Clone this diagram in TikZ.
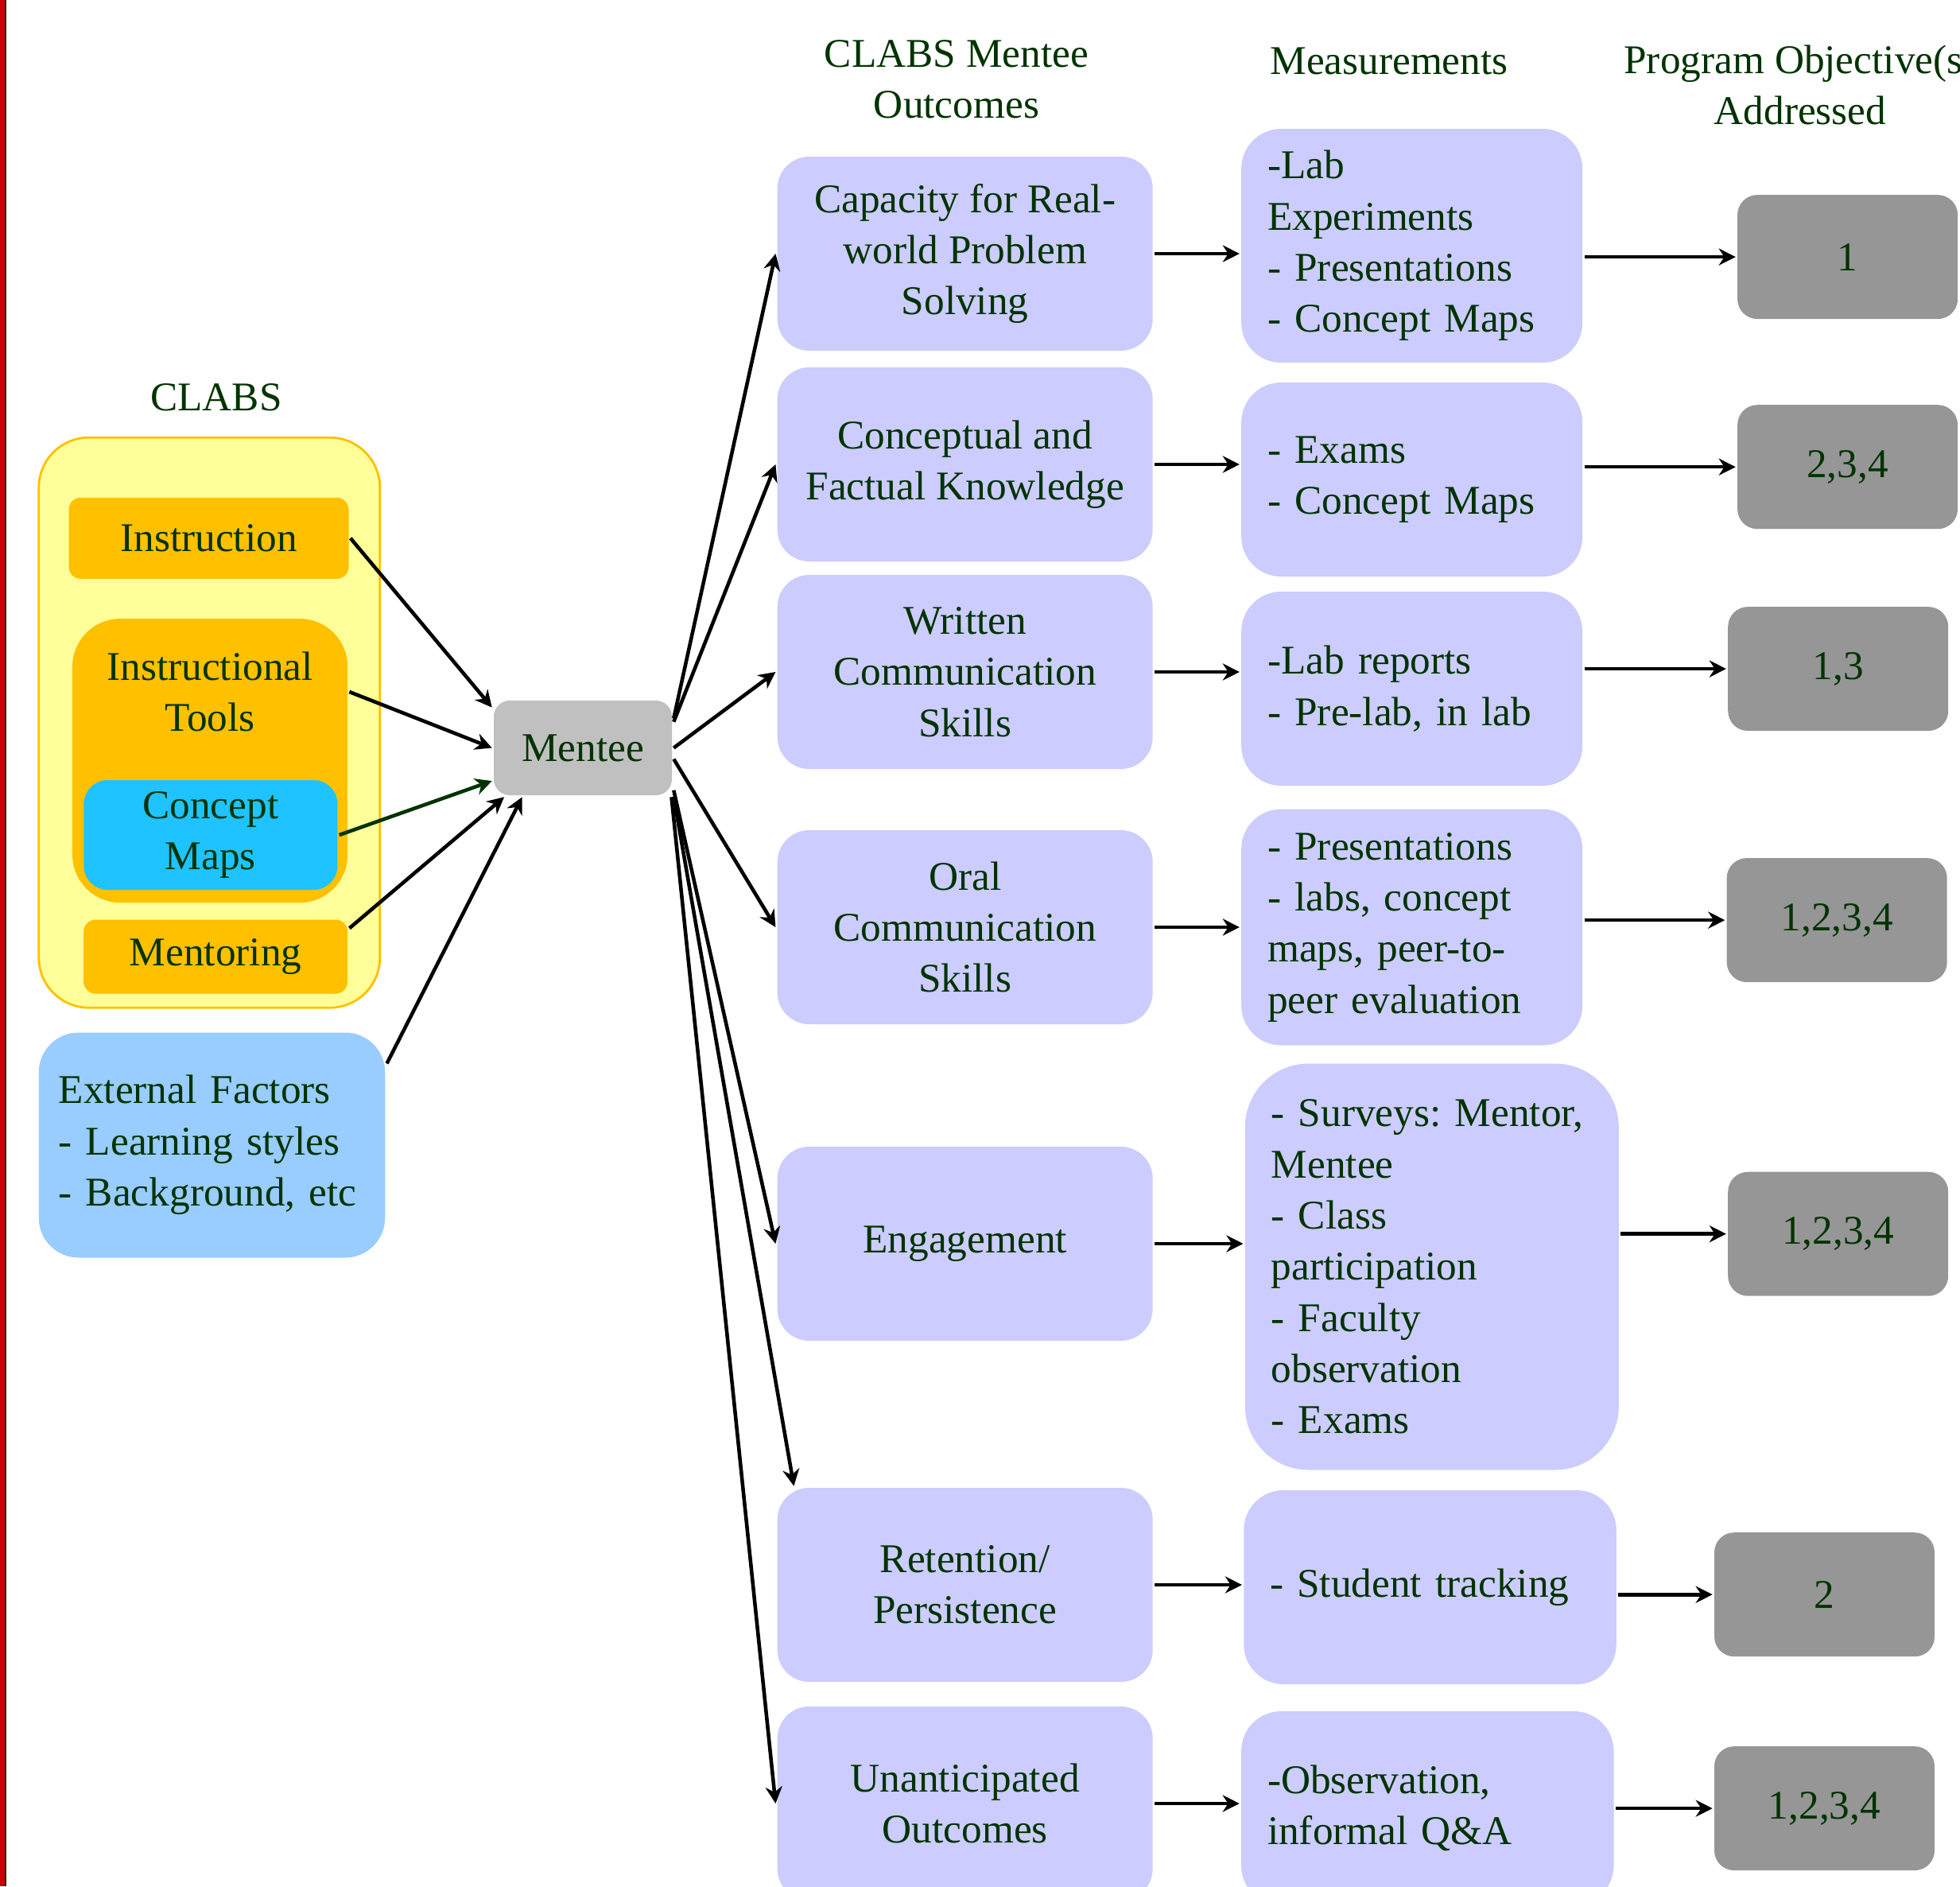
\documentclass[tikz,border=0pt]{standalone}
\usepackage{fontspec}
\setmainfont{Liberation Serif}
\usetikzlibrary{arrows.meta, positioning, calc}

\definecolor{txtgreen}{HTML}{003300}
\definecolor{clabsyellow}{HTML}{FFFF99}
\definecolor{clabsorange}{HTML}{FFC000}
\definecolor{mapblue}{HTML}{1EC3FF}
\definecolor{extblue}{HTML}{99CCFF}
\definecolor{lavender}{HTML}{CCCCFF}
\definecolor{menteegray}{HTML}{C0C0C0}
\definecolor{objgray}{HTML}{969696}
\definecolor{barred}{HTML}{CC0000}

\frenchspacing

\begin{document}
\begin{tikzpicture}[
    -{Stealth[length=6pt,width=6pt]}, line width=1.3pt,
    every node/.style={text=txtgreen, font=\fontsize{14.6pt}{18.3pt}\selectfont},
    heading/.style={align=center},
    item/.style={rectangle, fill=clabsorange, rounded corners=0.15cm},
    outcome/.style={rectangle, fill=lavender, rounded corners=0.4cm,
                    minimum width=4.72cm, minimum height=2.44cm, align=center},
    measure/.style={rectangle, fill=lavender, rounded corners=0.5cm,
                    inner xsep=0.33cm, align=left},
    objective/.style={rectangle, fill=objgray, rounded corners=0.25cm,
                      minimum width=2.77cm, minimum height=1.56cm}
]
    \useasboundingbox (0,0) rectangle (24.65,-23.72);

    % page edge
    \fill[barred] (0,0) rectangle (0.06,-23.72);
    \draw[-, txtgreen, line width=0.6pt] (0.07,0) -- (0.07,-23.72);

    % column headings
    \node[heading] (hclabs) at (2.72,-5.0)   {CLABS};
    \node[heading] (hout)   at (12.03,-1.0)  {CLABS Mentee\\Outcomes};
    \node[heading] (hmeas)  at (17.47,-0.77) {Measurements};
    \node[heading] (hobj)   at (22.64,-1.07) {Program Objective(s)\\Addressed};

    % CLABS group
    \node[draw=clabsorange, fill=clabsyellow, line width=0.8pt, rounded corners=0.63cm,
          minimum width=4.29cm, minimum height=7.17cm] (clabs) at (2.633,-9.087) {};
    \node[item, minimum width=3.52cm, minimum height=1.02cm] (instr) at (2.625,-6.768) {Instruction};
    \node[item, rounded corners=0.6cm, minimum width=3.46cm, minimum height=3.57cm] (tools) at (2.641,-9.566) {};
    \node[heading] (toolslbl) at (2.641,-8.70) {Instructional\\Tools};
    \node[fill=mapblue, rounded corners=0.3cm, minimum width=3.19cm, minimum height=1.38cm,
          align=center] (cmaps) at (2.649,-10.50) {Concept\\Maps};
    \node[item, minimum width=3.32cm, minimum height=0.93cm] (mentor) at (2.712,-12.03) {Mentoring};
    \node[fill=extblue, rounded corners=0.5cm, minimum height=2.83cm, text width=3.855cm,
          inner xsep=0.25cm, align=left] (extf) at (2.665,-14.40)
          {External Factors\\- Learning styles\\- Background, etc};

    \node[fill=menteegray, rounded corners=0.2cm, minimum width=2.24cm,
          minimum height=1.19cm] (mentee) at (7.33,-9.405) {Mentee};

    % outcomes
    \node[outcome] (real)   at (12.137,-3.19)  {Capacity for Real-\\world Problem\\Solving};
    \node[outcome] (know)   at (12.137,-5.84)  {Conceptual and\\Factual Knowledge};
    \node[outcome] (write)  at (12.137,-8.45)  {Written\\Communication\\Skills};
    \node[outcome] (oral)   at (12.137,-11.66) {Oral\\Communication\\Skills};
    \node[outcome] (engage) at (12.137,-15.64) {Engagement};
    \node[outcome] (retain) at (12.137,-19.93) {Retention/\\Persistence};
    \node[outcome] (unant)  at (12.137,-22.68) {Unanticipated\\Outcomes};

    % measurements
    \node[measure, text width=3.63cm, minimum height=2.94cm] (mreal) at (17.757,-3.09)
          {-Lab\\Experiments\\- Presentations\\- Concept Maps};
    \node[measure, text width=3.63cm, minimum height=2.44cm] (mknow) at (17.757,-6.03)
          {- Exams\\- Concept Maps};
    \node[measure, text width=3.63cm, minimum height=2.44cm] (mwrite) at (17.757,-8.66)
          {-Lab reports\\- Pre-lab, in lab};
    \node[measure, text width=3.63cm, minimum height=2.97cm] (moral) at (17.757,-11.66)
          {- Presentations\\- labs, concept\\maps, peer-to-\\peer evaluation};
    \node[measure, rounded corners=0.8cm, text width=4.04cm, minimum height=5.11cm] (mengage)
          at (18.008,-15.93)
          {- Surveys: Mentor,\\Mentee\\- Class\\participation\\- Faculty\\observation\\- Exams};
    \node[measure, text width=4.025cm, minimum height=2.44cm] (mretain) at (17.985,-19.96)
          {- Student tracking};
    \node[measure, text width=4.025cm, minimum height=2.44cm] (munant) at (17.953,-22.74)
          {-Observation,\\informal Q\&A};

    % objectives
    \node[objective] (preal)   at (23.236,-3.231)  {1};
    \node[objective] (pknow)   at (23.236,-5.872)  {2,3,4};
    \node[objective] (pwrite)  at (23.117,-8.411)  {1,3};
    \node[objective] (poral)   at (23.102,-11.571) {1,2,3,4};
    \node[objective] (pengage) at (23.117,-15.517) {1,2,3,4};
    \node[objective] (pretain) at (22.945,-20.052) {2};
    \node[objective] (punant)  at (22.945,-22.741) {1,2,3,4};

    % into the mentee
    \draw (instr.east) -- (mentee.156);
    \draw (tools.east |- toolslbl) -- (mentee.west);
    \draw[txtgreen] (cmaps.east) -- (mentee.200);
    \draw (mentor.12) -- (mentee.212);
    \draw (extf.25) -- (mentee.219);

    % mentee to outcomes
    \draw (mentee.18)  -- (real.west);
    \draw (mentee.16)  -- (know.west);
    \draw (mentee.east) -- (write.west);
    \draw (mentee.-7)  -- (oral.west);
    \draw (mentee.-25) -- (engage.west);
    \draw (mentee.south east) -- (retain.150);
    \draw (mentee.-29) -- (unant.west);

    % outcomes to measurements
    \draw (real.east)   -- (real.east -| mreal.west);
    \draw (know.east)   -- (know.east -| mknow.west);
    \draw (write.east)  -- (write.east -| mwrite.west);
    \draw (oral.east)   -- (oral.east -| moral.west);
    \draw (engage.east) -- (engage.east -| mengage.west);
    \draw (retain.east) -- (retain.east -| mretain.west);
    \draw (unant.east)  -- (unant.east -| munant.west);

    % measurements to objectives
    \draw (mreal.east |- preal.west)     -- (preal.west);
    \draw (mknow.east |- pknow.west)     -- (pknow.west);
    \draw (mwrite.east |- pwrite.west)   -- (pwrite.west);
    \draw (moral.east |- poral.west)     -- (poral.west);
    \draw (mengage.east |- pengage.west) -- (pengage.west);
    \draw (mretain.east |- pretain.west) -- (pretain.west);
    \draw (munant.east |- punant.west)   -- (punant.west);
\end{tikzpicture}
\end{document}
